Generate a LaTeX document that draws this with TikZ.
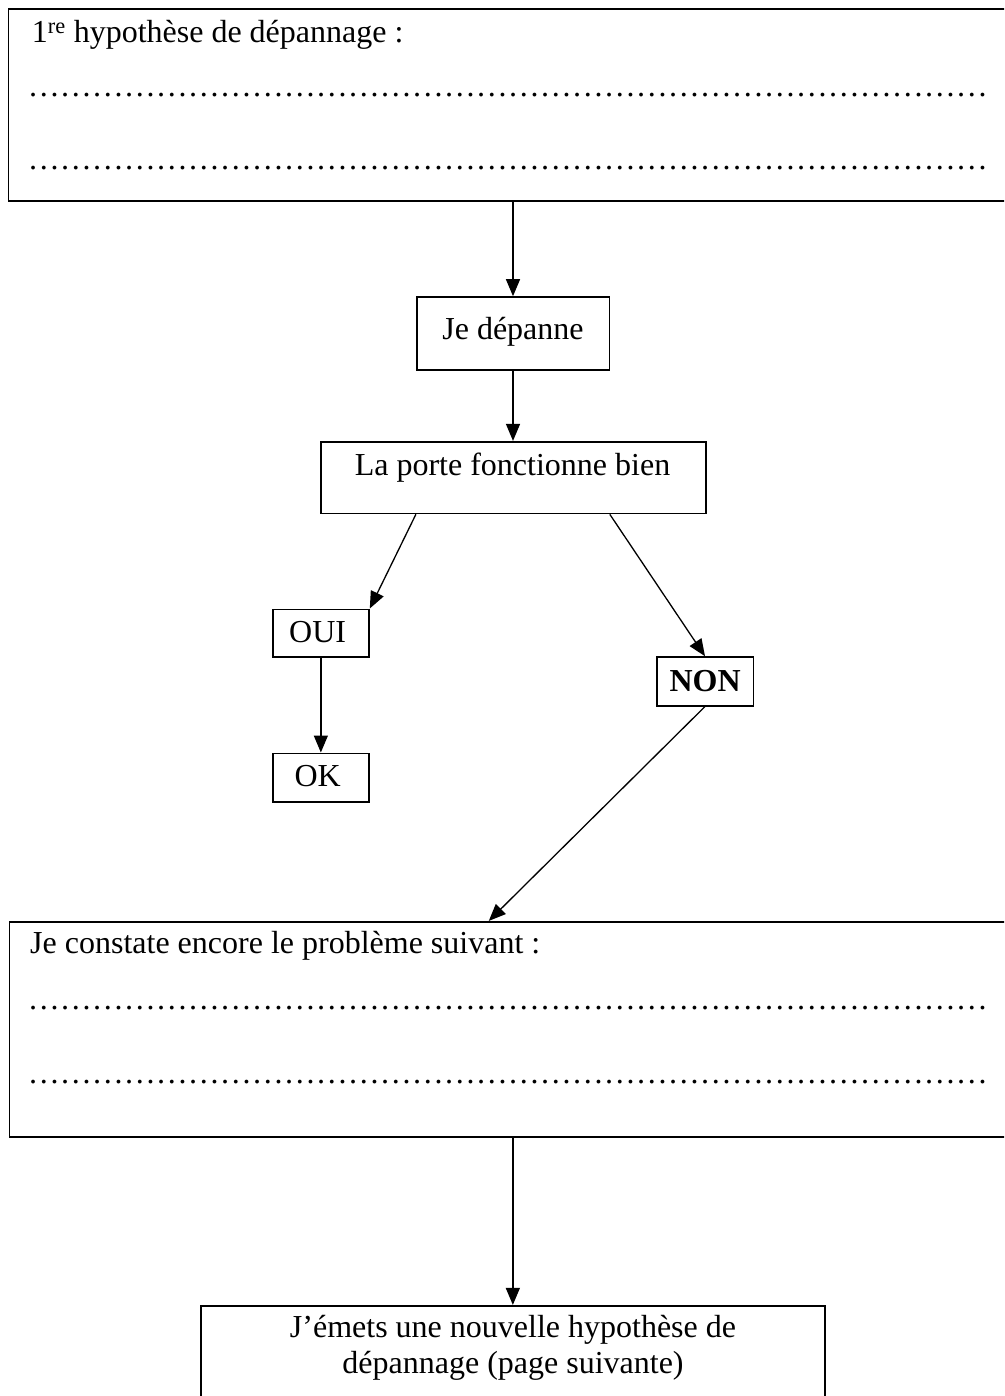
\documentclass[tikz,border=0pt]{standalone}
\usepackage{fontspec}
\setmainfont{Liberation Serif}
\usetikzlibrary{arrows.meta,calc}
\tikzset{
  box/.style={draw, line width=1.6pt, inner sep=0pt, rectangle},
  txt/.style={inner sep=0pt, font=\fontsize{32}{36.8}\selectfont},
  conn/.style={line width=1.3pt, -{Triangle[length=17pt,width=14pt]}},
  plain/.style={line width=1.3pt}
}
\def\oneell{…}
\def\fiveell{\oneell\oneell\oneell\oneell\oneell}
\newcommand\myrow{\fiveell\fiveell\fiveell\fiveell\fiveell\fiveell}
\begin{document}
\begin{tikzpicture}[x=1pt,y=-1pt]
\useasboundingbox (0,0) rectangle (1004,1396);
\clip (0,0) rectangle (1004,1396);
% boxes
\node[box, minimum width=1001.7pt, minimum height=191.7pt] (top) at (509.15,105.15) {};
\node[box, minimum width=192.6pt, minimum height=73pt] (dep) at (513,333.5) {};
\node[box, minimum width=385.3pt, minimum height=71.8pt] (porte) at (513.35,477.6) {};
\node[box, minimum width=96.3pt, minimum height=47.7pt] (oui) at (320.85,633.15) {};
\node[box, minimum width=96.3pt, minimum height=48.4pt] (ok) at (320.85,777.5) {};
\node[box, minimum width=96.6pt, minimum height=48.7pt] (non) at (705,681.35) {};
\node[box, minimum width=1000.4pt, minimum height=215pt] (constate) at (509.8,1029.2) {};
\node[box, minimum width=624.3pt, minimum height=104.3pt] (last) at (512.85,1357.85) {};
% texts
\node[txt, anchor=base west] (t1) at (31.7,42.3) {1\textsuperscript{re} hypothèse de dépannage :};
\node[txt, anchor=base west] (t1a) at (27.7,97) {\myrow};
\node[txt, anchor=base west] (t1b) at (27.7,170) {\myrow};
\node[txt, anchor=base] (t2) at (513,339.5) {Je dépanne};
\node[txt, anchor=base] (t3) at (512.5,475) {La porte fonctionne bien};
\node[txt, anchor=base west] (t4) at (289,642.7) {OUI};
\node[txt, anchor=base west] (t5) at (294.3,786.7) {OK};
\node[txt, anchor=base west] (t6) at (669.3,691) {\bfseries NON};
\node[txt, anchor=base west] (t7) at (30,953) {Je constate encore le problème suivant :};
\node[txt, anchor=base west] (t7a) at (27.7,1009) {\myrow};
\node[txt, anchor=base west] (t7b) at (27.7,1083) {\myrow};
\node[txt, anchor=base] (t8) at (513,1337) {J’émets une nouvelle hypothèse de};
\node[txt, anchor=base] (t9) at (513,1373.8) {dépannage (page suivante)};
% connectors
\draw[conn] (top.south -| dep.north) -- (dep.north);
\draw[conn] (dep.south) -- (dep.south |- porte.north);
\draw[conn] ([xshift=96pt]porte.south west) -- (oui.north east);
\draw[conn] ([xshift=-97pt]porte.south east) -- (non.north);
\draw[conn] (oui.south) -- (ok.north);
\draw[conn] (non.south) -- ([xshift=480pt]constate.north west);
\draw[conn] (constate.south -| last.north) -- (last.north);
\end{tikzpicture}
\end{document}
